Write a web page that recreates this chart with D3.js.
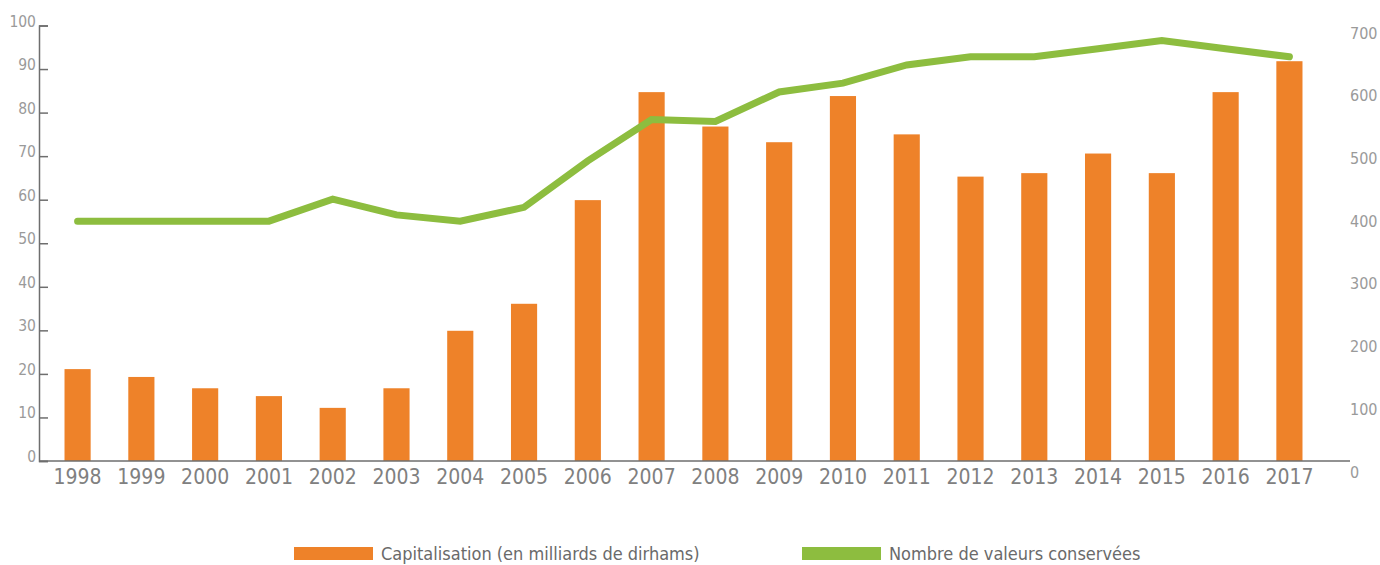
<!DOCTYPE html>
<html>
<head>
<meta charset="utf-8">
<script src="https://cdn.jsdelivr.net/npm/d3@7"></script>
<style>
    body { margin: 0; background: #fff; }
    svg { display: block; font-family: "DejaVu Sans Condensed", "DejaVu Sans", sans-serif; }
</style>
</head>
<body>
<script>
const years = ["1998", "1999", "2000", "2001", "2002", "2003", "2004", "2005", "2006", "2007",
    "2008", "2009", "2010", "2011", "2012", "2013", "2014", "2015", "2016", "2017"];
const capitalisation = [21.1, 19.3, 16.7, 14.9, 12.2, 16.7, 29.9, 36.1, 59.9, 84.7,
    76.8, 73.2, 83.8, 75.0, 65.3, 66.1, 70.6, 66.1, 84.7, 91.8];
const valeurs = [400, 400, 400, 400, 435, 410, 400, 422, 496, 562,
    559, 606, 620, 649, 662, 662, 675, 688, 675, 662];
const leftTicks = [0, 10, 20, 30, 40, 50, 60, 70, 80, 90, 100];
const rightTicks = [0, 100, 200, 300, 400, 500, 600, 700];
const legendLabels = ["Capitalisation (en milliards de dirhams)", "Nombre de valeurs conservées"];

const width = 1380, height = 565;
const orange = "#ee8229", green = "#8dbd3f";

const svg = d3.select("body").append("svg")
    .attr("width", width)
    .attr("height", height);

const x = d3.scaleBand()
    .domain(years)
    .range([39, 1328])
    .paddingInner(0.59)
    .paddingOuter(0.4);

const yLeft = d3.scaleLinear().domain([0, 100]).range([461, 25.5]);
const yRight = d3.scaleLinear().domain([0, 700]).range([472, 33]);

// barres
svg.selectAll("rect.bar")
    .data(years)
    .enter()
    .append("rect")
    .attr("class", "bar")
    .attr("x", d => x(d))
    .attr("y", (d, i) => yLeft(capitalisation[i]))
    .attr("width", x.bandwidth())
    .attr("height", (d, i) => yLeft(0) - yLeft(capitalisation[i]))
    .attr("fill", orange);

// ligne
const line = d3.line()
    .x((d, i) => x(years[i]) + x.bandwidth() / 2)
    .y(d => yRight(d));

svg.append("path")
    .datum(valeurs)
    .attr("d", line)
    .attr("fill", "none")
    .attr("stroke", green)
    .attr("stroke-width", 7)
    .attr("stroke-linejoin", "miter")
    .attr("stroke-linecap", "round");

// axe gauche, ticks vers l'interieur
const leftAxis = svg.append("g")
    .attr("transform", "translate(39,0)")
    .call(d3.axisRight(yLeft).tickValues(leftTicks).tickSize(9).tickFormat(""));
leftAxis.select(".domain").attr("stroke", "#6e6e6e").attr("stroke-width", 1.5);
leftAxis.selectAll(".tick line").attr("stroke", "#6e6e6e").attr("stroke-width", 1.5);

svg.append("g")
    .selectAll("text")
    .data(leftTicks)
    .enter()
    .append("text")
    .attr("x", 36)
    .attr("y", d => yLeft(d) + 1)
    .attr("text-anchor", "end")
    .attr("font-size", 15.5)
    .attr("fill", "#9a9a9a")
    .text(d => d);

// axe x
const xAxis = svg.append("g")
    .attr("transform", "translate(0,461)")
    .call(d3.axisBottom(x).tickSize(0).tickPadding(8));
xAxis.select(".domain").attr("d", "M39,0H1350").attr("stroke", "#6e6e6e").attr("stroke-width", 1.5);
xAxis.selectAll("text")
    .attr("font-family", "\"DejaVu Sans Condensed\", \"DejaVu Sans\", sans-serif")
    .attr("font-size", 21)
    .attr("fill", "#808080");

// axe droit (libelles seulement)
const rightAxis = svg.append("g")
    .attr("transform", "translate(1350,0)")
    .call(d3.axisRight(yRight).tickValues(rightTicks).tickSize(0).tickPadding(0));
rightAxis.select(".domain").remove();
rightAxis.selectAll("text")
    .attr("font-family", "\"DejaVu Sans Condensed\", \"DejaVu Sans\", sans-serif")
    .attr("font-size", 16)
    .attr("fill", "#9a9a9a");

// legende
const legend = svg.append("g");
const legendX = [294, 802];
const legendColors = [orange, green];
legendLabels.forEach((label, i) => {
    legend.append("rect")
        .attr("x", legendX[i])
        .attr("y", 547)
        .attr("width", 79)
        .attr("height", 13)
        .attr("fill", legendColors[i]);
    legend.append("text")
        .attr("x", legendX[i] + 87)
        .attr("y", 560)
        .attr("font-size", 18)
        .attr("fill", "#6a6a6a")
        .text(label);
});
</script>
</body>
</html>
